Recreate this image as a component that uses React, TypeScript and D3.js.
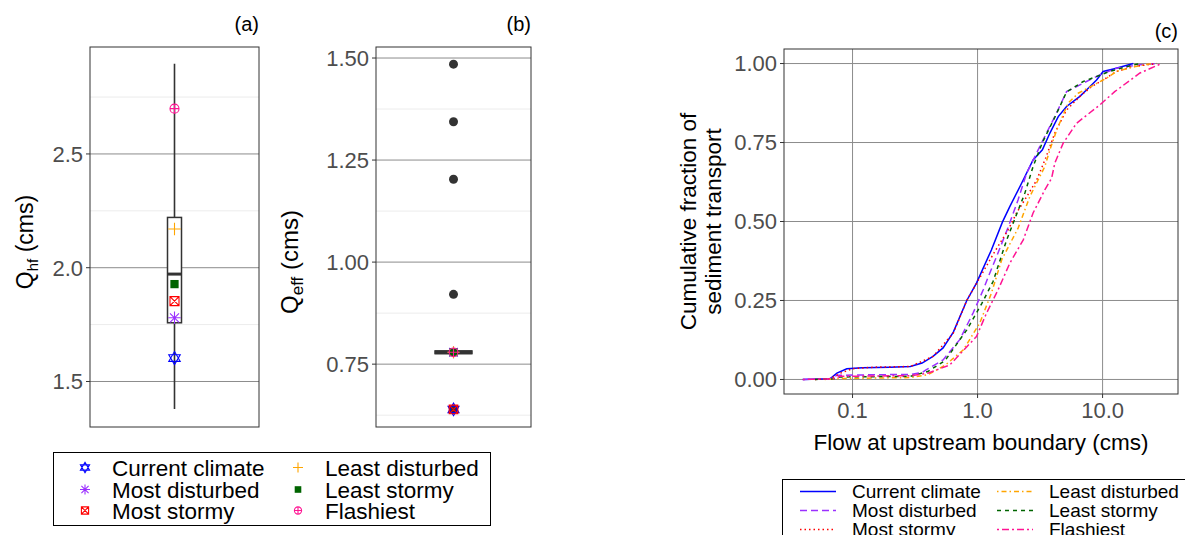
import React from "react";
import * as d3 from "d3";

// Scenario names, colours and summary values
const scenarios = ["Current climate", "Most disturbed", "Most stormy", "Least disturbed", "Least stormy", "Flashiest"];
const scenarioColors = ["#0000ff", "#9b30ff", "#ff0000", "#ffa500", "#006400", "#ff1493"];
const scenarioShapes = ["star", "asterisk", "squareX", "plus", "squareFill", "circlePlus"];
const scenarioDashes = ["none", "7,4", "1.5,3", "1.5,3,5,3", "4,4", "2,3,7,3"];

// (a) bankfull flow per scenario, and the box summary of the full ensemble
const qhfValues = [1.603, 1.78, 1.853, 2.17, 1.928, 2.699];
const qhfBoxStats = [1.379, 1.758, 1.972, 2.221, 2.896];
const qhfTicks = [1.5, 2.0, 2.5];
const qhfMinor = [1.75, 2.25, 2.75];

// (b) effective discharge per scenario, box summary and outliers
const qeffValues = [0.639, 0.779, 0.639, 0.779, 0.779, 0.779];
const qeffBoxStats = [0.779, 0.779, 0.779, 0.779, 0.779];
const qeffOutliers = [1.485, 1.344, 1.203, 0.921, 0.639];
const qeffTicks = [0.75, 1.0, 1.25, 1.5];
const qeffMinor = [0.625, 0.875, 1.125, 1.375];

// (c) cumulative sediment transport vs flow, [flow (cms), fraction]
const cdfCurrent: [number, number][] = [
  [0.04, 0], [0.066, 0.002], [0.075, 0.02], [0.09, 0.034], [0.12, 0.037], [0.2, 0.039], [0.29, 0.041],
  [0.36, 0.052], [0.44, 0.073], [0.53, 0.1], [0.64, 0.15], [0.82, 0.25], [0.98, 0.305], [1.29, 0.41],
  [1.58, 0.498], [1.81, 0.547], [2.25, 0.621], [2.78, 0.695], [3.3, 0.727], [3.79, 0.78], [4.42, 0.832],
  [5.15, 0.864], [6.58, 0.896], [7.68, 0.922], [8.95, 0.948], [10.1, 0.975], [12.2, 0.983], [17.6, 1.0],
];
const cdfMostDisturbed: [number, number][] = [
  [0.04, 0], [0.065, 0.002], [0.075, 0.013], [0.15, 0.015], [0.29, 0.016], [0.36, 0.022], [0.39, 0.031],
  [0.53, 0.062], [0.72, 0.126], [0.92, 0.21], [1.11, 0.284], [1.22, 0.326], [1.42, 0.389], [1.75, 0.48],
  [2.11, 0.569], [2.47, 0.653], [3.35, 0.759], [4.15, 0.832], [5.15, 0.911], [7.0, 0.938], [9.5, 0.964],
  [12.9, 0.985], [19.9, 0.996], [27, 1.0],
];
const cdfMostStormy: [number, number][] = [
  [0.05, 0], [0.066, 0.002], [0.08, 0.02], [0.1, 0.034], [0.15, 0.039], [0.29, 0.041], [0.44, 0.073],
  [0.64, 0.147], [0.82, 0.25], [1.0, 0.31], [1.35, 0.4], [1.76, 0.474], [2.05, 0.527], [2.39, 0.569],
  [2.96, 0.63], [3.5, 0.7], [4.15, 0.78], [5.15, 0.853], [6.58, 0.896], [8.17, 0.927], [10.1, 0.948],
  [12.9, 0.975], [17.5, 0.99], [27, 1.0],
];
const cdfLeastDisturbed: [number, number][] = [
  [0.06, 0], [0.08, 0.003], [0.29, 0.006], [0.4, 0.015], [0.55, 0.045], [0.77, 0.094], [1.04, 0.178],
  [1.29, 0.273], [1.56, 0.379], [2.11, 0.479], [2.62, 0.579], [3.45, 0.674], [3.79, 0.727], [4.3, 0.79],
  [5.31, 0.875], [6.38, 0.906], [10.8, 0.954], [12.9, 0.975], [17.5, 0.989], [24.7, 1.0],
];
const cdfLeastStormy: [number, number][] = [
  [0.05, 0], [0.07, 0.002], [0.08, 0.008], [0.29, 0.01], [0.4, 0.025], [0.55, 0.06], [0.82, 0.157],
  [1.08, 0.24], [1.33, 0.31], [1.71, 0.442], [2.39, 0.59], [2.78, 0.674], [3.3, 0.75], [4.15, 0.83],
  [5.15, 0.91], [7.0, 0.943], [11.4, 0.975], [17.6, 0.996], [20, 1.0],
];
const cdfFlashiest: [number, number][] = [
  [0.04, 0], [0.07, 0.002], [0.08, 0.01], [0.29, 0.012], [0.4, 0.02], [0.6, 0.046], [0.98, 0.136],
  [1.18, 0.21], [1.46, 0.284], [1.81, 0.368], [2.32, 0.442], [2.78, 0.527], [3.45, 0.6], [3.91, 0.637],
  [4.15, 0.685], [4.84, 0.748], [6.19, 0.811], [9.5, 0.869], [12.5, 0.911], [19.9, 0.97], [29.6, 1.0],
];
const cdfSeries = [cdfCurrent, cdfMostDisturbed, cdfMostStormy, cdfLeastDisturbed, cdfLeastStormy, cdfFlashiest];
const flowTicks = [0.1, 1, 10];
const flowTickLabels = ["0.1", "1.0", "10.0"];
const fracTicks = [0, 0.25, 0.5, 0.75, 1];

const FONT = "'Liberation Sans', Arial, sans-serif";
const GRID = "#8c8c8c";
const MINOR = "#ececec";
const BORDER = "#333333";
const TICKTEXT = "#4d4d4d";

function Marker({ shape, x, y, s, color }: { shape: string; x: number; y: number; s: number; color: string }) {
  const h = s / 2;
  const sw = 1.1;
  switch (shape) {
    case "star": {
      const t = h * 1.05;
      const up = `M${x},${y - t} L${x + t * 0.87},${y + t * 0.5} L${x - t * 0.87},${y + t * 0.5} Z`;
      const dn = `M${x},${y + t} L${x + t * 0.87},${y - t * 0.5} L${x - t * 0.87},${y - t * 0.5} Z`;
      return <path d={up + dn} fill="none" stroke={color} strokeWidth={sw} />;
    }
    case "asterisk": {
      const d = h * 0.72;
      return (
        <path
          d={`M${x - h},${y} L${x + h},${y} M${x},${y - h} L${x},${y + h} M${x - d},${y - d} L${x + d},${y + d} M${x - d},${y + d} L${x + d},${y - d}`}
          stroke={color}
          strokeWidth={sw}
        />
      );
    }
    case "squareX": {
      const q = h * 0.72;
      return (
        <path
          d={`M${x - q},${y - q} h${2 * q} v${2 * q} h${-2 * q} Z M${x - q},${y - q} L${x + q},${y + q} M${x - q},${y + q} L${x + q},${y - q}`}
          fill="none"
          stroke={color}
          strokeWidth={sw}
        />
      );
    }
    case "plus":
      return <path d={`M${x - h},${y} L${x + h},${y} M${x},${y - h} L${x},${y + h}`} stroke={color} strokeWidth={sw} />;
    case "squareFill": {
      const q = h * 0.66;
      return <rect x={x - q} y={y - q} width={2 * q} height={2 * q} fill={color} />;
    }
    case "circlePlus": {
      const r = h * 0.72;
      return (
        <g>
          <circle cx={x} cy={y} r={r} fill="none" stroke={color} strokeWidth={sw} />
          <path d={`M${x - r},${y} L${x + r},${y} M${x},${y - r} L${x},${y + r}`} stroke={color} strokeWidth={sw} />
        </g>
      );
    }
  }
  return null;
}

export default function App() {
  // panel geometry
  const A = { l: 90, r: 259, t: 47, b: 427 };
  const B = { l: 376, r: 531, t: 47, b: 427 };
  const C = { l: 784, r: 1178, t: 49, b: 394 };

  const yA = d3.scaleLinear().domain([1.3, 2.97]).range([A.b, A.t]);
  const yB = d3.scaleLinear().domain([0.596, 1.527]).range([B.b, B.t]);
  const xC = d3.scaleLog().domain([0.0283, 40.1]).range([C.l, C.r]);
  const yC = d3.scaleLinear().domain([-0.046, 1.046]).range([C.b, C.t]);

  const cxA = (A.l + A.r) / 2;
  const cxB = (B.l + B.r) / 2;

  const line = d3
    .line<[number, number]>()
    .x((d) => xC(d[0]))
    .y((d) => yC(d[1]));

  const [aLo, aQ1, aMed, aQ3, aHi] = qhfBoxStats;
  const [bLo, bQ1, bMed, bQ3, bHi] = qeffBoxStats;

  const legendRowsA = [467.5, 489.5, 510.5];
  const legendColsA = [85, 298];
  const legendRowsC = [491.5, 510.5, 529.5];
  const legendColsC = [800, 997];

  return (
    <svg
      width={1185}
      height={535}
      style={{ position: "absolute", left: 0, top: 0, background: "#fff" }}
      fontFamily={FONT}
    >
      <rect width={1185} height={535} fill="#fff" />

      {/* ---------- (a) ---------- */}
      <g>
        {qhfMinor.map((v) => (
          <line key={v} x1={A.l} x2={A.r} y1={yA(v)} y2={yA(v)} stroke={MINOR} strokeWidth={1} />
        ))}
        {qhfTicks.map((v) => (
          <line key={v} x1={A.l} x2={A.r} y1={yA(v)} y2={yA(v)} stroke={GRID} strokeWidth={1} />
        ))}
        <line x1={cxA} x2={cxA} y1={yA(aLo)} y2={yA(aHi)} stroke={BORDER} strokeWidth={1.6} />
        <rect x={cxA - 7} y={yA(aQ3)} width={14} height={yA(aQ1) - yA(aQ3)} fill="#fff" stroke={BORDER} strokeWidth={1.5} />
        <line x1={cxA - 7} x2={cxA + 7} y1={yA(aMed)} y2={yA(aMed)} stroke={BORDER} strokeWidth={3} />
        {scenarios.map((s, i) => (
          <Marker key={s} shape={scenarioShapes[i]} x={cxA} y={yA(qhfValues[i])} s={12.5} color={scenarioColors[i]} />
        ))}
        <rect x={A.l} y={A.t} width={A.r - A.l} height={A.b - A.t} fill="none" stroke={BORDER} strokeWidth={1} />
        {qhfTicks.map((v) => (
          <g key={v}>
            <line x1={A.l - 4} x2={A.l} y1={yA(v)} y2={yA(v)} stroke={BORDER} strokeWidth={1} />
            <text x={A.l - 7} y={yA(v)} dy="0.36em" textAnchor="end" fontSize={22} fill={TICKTEXT}>
              {v.toFixed(1)}
            </text>
          </g>
        ))}
        <text transform={`translate(33,242) rotate(-90)`} textAnchor="middle" fontSize={23} fill="#000">
          Q<tspan fontSize={15} dy={5}>hf</tspan>
          <tspan dy={-5}> (cms)</tspan>
        </text>
        <text x={A.r} y={31} textAnchor="end" fontSize={20} fill="#000">
          (a)
        </text>
      </g>

      {/* ---------- (b) ---------- */}
      <g>
        {qeffMinor.map((v) => (
          <line key={v} x1={B.l} x2={B.r} y1={yB(v)} y2={yB(v)} stroke={MINOR} strokeWidth={1} />
        ))}
        {qeffTicks.map((v) => (
          <line key={v} x1={B.l} x2={B.r} y1={yB(v)} y2={yB(v)} stroke={GRID} strokeWidth={1} />
        ))}
        <line x1={cxB} x2={cxB} y1={yB(bLo)} y2={yB(bHi)} stroke={BORDER} strokeWidth={1.6} />
        <rect x={cxB - 19} y={yB(bQ3) - 2} width={38} height={yB(bQ1) - yB(bQ3) + 4} fill={BORDER} />
        <line x1={cxB - 19} x2={cxB + 19} y1={yB(bMed)} y2={yB(bMed)} stroke={BORDER} strokeWidth={4} />
        {qeffOutliers.map((v, i) => (
          <circle key={i} cx={cxB} cy={yB(v)} r={4.5} fill={BORDER} />
        ))}
        {scenarios.map((s, i) => (
          <Marker key={s} shape={scenarioShapes[i]} x={cxB} y={yB(qeffValues[i])} s={12} color={scenarioColors[i]} />
        ))}
        <rect x={B.l} y={B.t} width={B.r - B.l} height={B.b - B.t} fill="none" stroke={BORDER} strokeWidth={1} />
        {qeffTicks.map((v) => (
          <g key={v}>
            <line x1={B.l - 4} x2={B.l} y1={yB(v)} y2={yB(v)} stroke={BORDER} strokeWidth={1} />
            <text x={B.l - 7} y={yB(v)} dy="0.36em" textAnchor="end" fontSize={22} fill={TICKTEXT}>
              {v.toFixed(2)}
            </text>
          </g>
        ))}
        <text transform={`translate(298,262) rotate(-90)`} textAnchor="middle" fontSize={24} fill="#000">
          Q<tspan fontSize={17} dy={5}>eff</tspan>
          <tspan dy={-5}> (cms)</tspan>
        </text>
        <text x={B.r} y={31} textAnchor="end" fontSize={20} fill="#000">
          (b)
        </text>
      </g>

      {/* ---------- (c) ---------- */}
      <g>
        {fracTicks.map((v) => (
          <line key={v} x1={C.l} x2={C.r} y1={yC(v)} y2={yC(v)} stroke={GRID} strokeWidth={1} />
        ))}
        {flowTicks.map((v) => (
          <line key={v} x1={xC(v)} x2={xC(v)} y1={C.t} y2={C.b} stroke={GRID} strokeWidth={1} />
        ))}
        {cdfSeries.map((d, i) => (
          <path
            key={i}
            d={line(d) || ""}
            fill="none"
            stroke={scenarioColors[i]}
            strokeWidth={1.5}
            strokeDasharray={scenarioDashes[i]}
          />
        ))}
        <rect x={C.l} y={C.t} width={C.r - C.l} height={C.b - C.t} fill="none" stroke={BORDER} strokeWidth={1} />
        {fracTicks.map((v) => (
          <g key={v}>
            <line x1={C.l - 4} x2={C.l} y1={yC(v)} y2={yC(v)} stroke={BORDER} strokeWidth={1} />
            <text x={C.l - 7} y={yC(v)} dy="0.36em" textAnchor="end" fontSize={22} fill={TICKTEXT}>
              {v.toFixed(2)}
            </text>
          </g>
        ))}
        {flowTicks.map((v, i) => (
          <g key={v}>
            <line x1={xC(v)} x2={xC(v)} y1={C.b} y2={C.b + 4} stroke={BORDER} strokeWidth={1} />
            <text x={xC(v)} y={C.b + 24} textAnchor="middle" fontSize={22} fill={TICKTEXT}>
              {flowTickLabels[i]}
            </text>
          </g>
        ))}
        <text x={(C.l + C.r) / 2} y={450} textAnchor="middle" fontSize={22.5} fill="#000">
          Flow at upstream boundary (cms)
        </text>
        <text transform={`translate(696,${(C.t + C.b) / 2}) rotate(-90)`} textAnchor="middle" fontSize={22.5} fill="#000">
          Cumulative fraction of
        </text>
        <text transform={`translate(721,${(C.t + C.b) / 2}) rotate(-90)`} textAnchor="middle" fontSize={22.5} fill="#000">
          sediment transport
        </text>
        <text x={C.r} y={38} textAnchor="end" fontSize={20} fill="#000">
          (c)
        </text>
      </g>

      {/* ---------- legend for (a) and (b) ---------- */}
      <g>
        <rect x={53.5} y={452.5} width={437} height={73} fill="#fff" stroke="#000" strokeWidth={1} />
        {scenarios.map((s, i) => {
          const col = Math.floor(i / 3);
          const row = i % 3;
          const x = legendColsA[col];
          const y = legendRowsA[row];
          return (
            <g key={s}>
              <Marker shape={scenarioShapes[i]} x={x} y={y} s={10} color={scenarioColors[i]} />
              <text x={x + 27} y={y} dy="0.36em" fontSize={22.5} fill="#000">
                {s}
              </text>
            </g>
          );
        })}
      </g>

      {/* ---------- legend for (c) ---------- */}
      <g>
        <rect x={782.5} y={479.5} width={420} height={80} fill="#fff" stroke="#000" strokeWidth={1} />
        {scenarios.map((s, i) => {
          const col = Math.floor(i / 3);
          const row = i % 3;
          const x = legendColsC[col];
          const y = legendRowsC[row];
          return (
            <g key={s}>
              <line
                x1={x}
                x2={x + 36}
                y1={y}
                y2={y}
                stroke={scenarioColors[i]}
                strokeWidth={1.5}
                strokeDasharray={scenarioDashes[i]}
              />
              <text x={x + 52} y={y} dy="0.36em" fontSize={19} fill="#000">
                {s}
              </text>
            </g>
          );
        })}
      </g>
    </svg>
  );
}
